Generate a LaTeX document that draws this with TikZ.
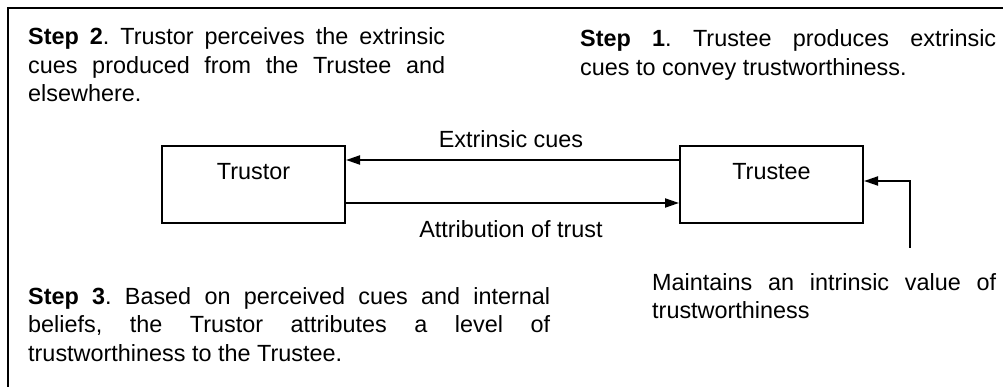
\documentclass[tikz,border=0pt]{standalone}
\usepackage{fontspec}
\setmainfont{Liberation Sans}
\usetikzlibrary{arrows.meta}
\hyphenpenalty=10000
\exhyphenpenalty=10000
\frenchspacing
\tikzset{
  box/.style={draw, line width=2pt, inner sep=0pt, minimum width=183pt,
    text height=34pt, text depth=43pt, font=\fontsize{23.4}{28}\selectfont},
  arr/.style={line width=2pt, -{Triangle[length=14pt,width=9pt]}},
  lbl/.style={inner sep=0pt, anchor=base, font=\fontsize{23.4}{28}\selectfont},
  para/.style={inner sep=0pt, anchor=base west, align=justify,
    font=\fontsize{23.4}{28.5}\selectfont}
}
\begin{document}
\begin{tikzpicture}[x=1pt,y=-1pt]
\useasboundingbox (0,0) rectangle (1003,387);
\draw[line width=2pt] (8,387) -- (8,8) -- (1003,8);
% boxes
\node[box, anchor=north west] (trustor) at (161,145) {Trustor};
\node[box, anchor=north west] (trustee) at (679,145) {Trustee};
% arrows
\draw[arr] (trustee.west |- 0,160) -- (trustor.east |- 0,160);
\draw[arr] (trustor.east |- 0,203) -- (trustee.west |- 0,203);
\coordinate (src) at (910,248);
\draw[arr] (src) |- (trustee.east |- 0,181);
% arrow labels
\node[lbl] (ext) at (511,148) {Extrinsic cues};
\node[lbl] (att) at (511,238) {Attribution of trust};
% paragraphs
\node[para, text width=417pt] (s2) at (28,45)
  {\textbf{Step 2}. Trustor perceives the extrinsic\linebreak cues produced from the Trustee and\linebreak elsewhere.};
\node[para, text width=416pt] (s1) at (580,47)
  {\textbf{Step 1}. Trustee produces extrinsic\linebreak cues to convey trustworthiness.};
\node[para, text width=522pt] (s3) at (28,304)
  {\textbf{Step 3}. Based on perceived cues and internal\linebreak beliefs, the Trustor attributes a level of\linebreak trustworthiness to the Trustee.};
\node[para, text width=344pt] (s4) at (652,290)
  {Maintains an intrinsic value of\linebreak trustworthiness};
\end{tikzpicture}
\end{document}
